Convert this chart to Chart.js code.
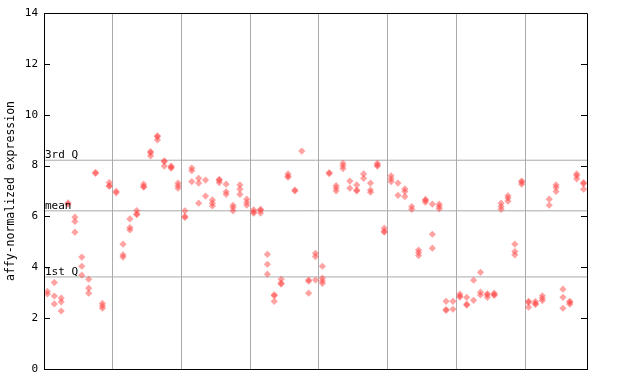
<!DOCTYPE html>
<html>
<head>
<meta charset="utf-8">
<script src="https://cdn.jsdelivr.net/npm/chart.js@4"></script>
<style>
html,body{margin:0;padding:0;background:#fff;}
#wrap{width:640px;height:384px;}
</style>
</head>
<body>
<div id="wrap"><canvas id="c" width="640" height="384"></canvas></div>
<script>
// Expression values per sample column, grouped by the vertical separators
const group1 = [[3.05,2.95],[3.40,2.87,2.56],[2.79,2.64,2.28],[6.53,6.48],[5.97,5.80,5.38],[4.40,4.04,3.69],[3.53,3.18,2.98],[7.73,7.69],[2.58,2.48,2.39],[7.33,7.21,7.19]];
const group2 = [[6.99,6.93],[4.91,4.49,4.40],[5.90,5.56,5.47],[6.23,6.10,6.07],[7.27,7.18,7.15],[8.55,8.50,8.38],[9.17,9.13,9.01],[8.19,8.15,7.98],[7.98,7.93,7.90],[7.31,7.21,7.11]];
const group3 = [[6.22,6.00,5.96],[7.90,7.80,7.37],[7.50,7.31,6.52],[7.43,6.80],[6.65,6.52,6.41],[7.46,7.42,7.33],[7.27,6.97,6.87],[6.44,6.35,6.22],[7.24,7.07,6.87],[6.68,6.55,6.44]];
const group4 = [[6.26,6.17,6.13],[6.28,6.24,6.13],[4.51,4.12,3.73],[2.92,2.88,2.66],[3.53,3.38,3.34],[7.67,7.58,7.54],[7.04,7.00],[8.57],[3.50,3.45,2.98],[4.55,4.42,3.50]];
const group5 = [[4.04,3.57,3.46,3.37],[7.72,7.68],[7.21,7.11,7.00],[8.09,7.99,7.88],[7.39,7.11],[7.24,7.04,7.00],[7.67,7.50],[7.31,7.04,6.95],[8.09,8.02,7.98],[5.54,5.42,5.38]];
const group6 = [[7.60,7.48,7.37],[7.31,6.83],[7.08,6.98,6.78],[6.39,6.28],[4.68,4.58,4.46],[6.67,6.63,6.56],[6.48,5.30,4.75],[6.48,6.39,6.30],[2.66,2.34,2.30],[2.66,2.35]];
const group7 = [[2.95,2.87,2.83],[2.82,2.55,2.51],[3.49,2.70],[3.80,3.02,2.91],[2.96,2.92,2.82],[2.98,2.93,2.89],[6.52,6.39,6.28],[6.81,6.72,6.60],[4.91,4.62,4.49],[7.39,7.35,7.27]];
const group8 = [[2.66,2.62,2.43],[2.65,2.58,2.54],[2.88,2.78,2.69],[6.68,6.44],[7.24,7.14,6.98],[3.14,2.82,2.39],[2.66,2.62,2.55],[7.67,7.60,7.48],[7.33,7.29,7.07]];

const quartileValues = [8.21, 6.22, 3.62];
const quartileLabels = ['3rd Q', 'mean', '1st Q'];
const yTickValues = [0, 2, 4, 6, 8, 10, 12, 14];
const separatorPositions = [10, 20, 30, 40, 50, 60, 70];
const yTitle = 'affy-normalized expression';

const groups = [group1, group2, group3, group4, group5, group6, group7, group8];
const columns = [].concat(...groups);
const nCols = columns.length;

const points = [];
columns.forEach((vals, i) => vals.forEach(v => points.push({x: i + 0.5, y: v})));

const qDatasets = quartileValues.map(q => ({
  type: 'line',
  data: [{x: 0, y: q}, {x: nCols, y: q}],
  borderColor: '#aaaaaa',
  borderWidth: 1,
  pointRadius: 0,
  order: 2
}));

const mono = 'DejaVu Sans Mono';

const framePlugin = {
  id: 'frame',
  afterDatasetsDraw(chart) {
    const {ctx, chartArea: a, scales} = chart;
    const y = scales.y;
    ctx.save();
    ctx.strokeStyle = '#000';
    ctx.lineWidth = 1;
    ctx.beginPath();
    ctx.rect(Math.round(a.left) + 0.5, Math.round(a.top) + 0.5, Math.round(a.right - a.left), Math.round(a.bottom - a.top));
    ctx.stroke();
    ctx.beginPath();
    yTickValues.forEach(v => {
      const py = Math.round(y.getPixelForValue(v)) + 0.5;
      ctx.moveTo(a.left, py); ctx.lineTo(a.left + 6, py);
      ctx.moveTo(a.right - 6, py); ctx.lineTo(a.right, py);
    });
    ctx.stroke();
    ctx.fillStyle = '#000';
    ctx.font = '11px "' + mono + '"';
    ctx.textAlign = 'left';
    ctx.textBaseline = 'alphabetic';
    quartileValues.forEach((q, i) => {
      const py = y.getPixelForValue(q);
      ctx.fillText(quartileLabels[i], a.left + 1, py - 2);
    });
    ctx.restore();
  }
};

new Chart(document.getElementById('c'), {
  type: 'scatter',
  data: {
    datasets: [
      ...qDatasets,
      {
        type: 'scatter',
        data: points,
        pointStyle: 'rectRot',
        pointRadius: 3.6,
        pointHoverRadius: 3.6,
        borderWidth: 0,
        backgroundColor: 'rgba(255,70,70,0.5)',
        order: 1
      }
    ]
  },
  options: {
    responsive: false,
    animation: false,
    events: [],
    layout: {padding: {left: 0, top: 13, right: 53, bottom: 15}},
    plugins: {legend: {display: false}, tooltip: {enabled: false}},
    scales: {
      x: {
        type: 'linear',
        min: 0,
        max: nCols,
        afterBuildTicks(scale) { scale.ticks = separatorPositions.map(v => ({value: v})); },
        afterFit(scale) { scale.height = 0; },
        ticks: {display: false},
        grid: {color: '#aaaaaa', lineWidth: 1, drawTicks: false},
        border: {display: true, color: '#000'}
      },
      y: {
        type: 'linear',
        min: 0,
        max: 14,
        afterBuildTicks(scale) { scale.ticks = yTickValues.map(v => ({value: v})); },
        afterFit(scale) { scale.width = 44; },
        ticks: {color: '#000', font: {family: mono, size: 11}, padding: 6},
        grid: {display: false, drawTicks: false},
        border: {display: true, color: '#000'},
        title: {display: true, text: yTitle, color: '#000', font: {family: mono, size: 11.5}, padding: {top: 4, bottom: 0}}
      }
    }
  },
  plugins: [framePlugin]
});
</script>
</body>
</html>
